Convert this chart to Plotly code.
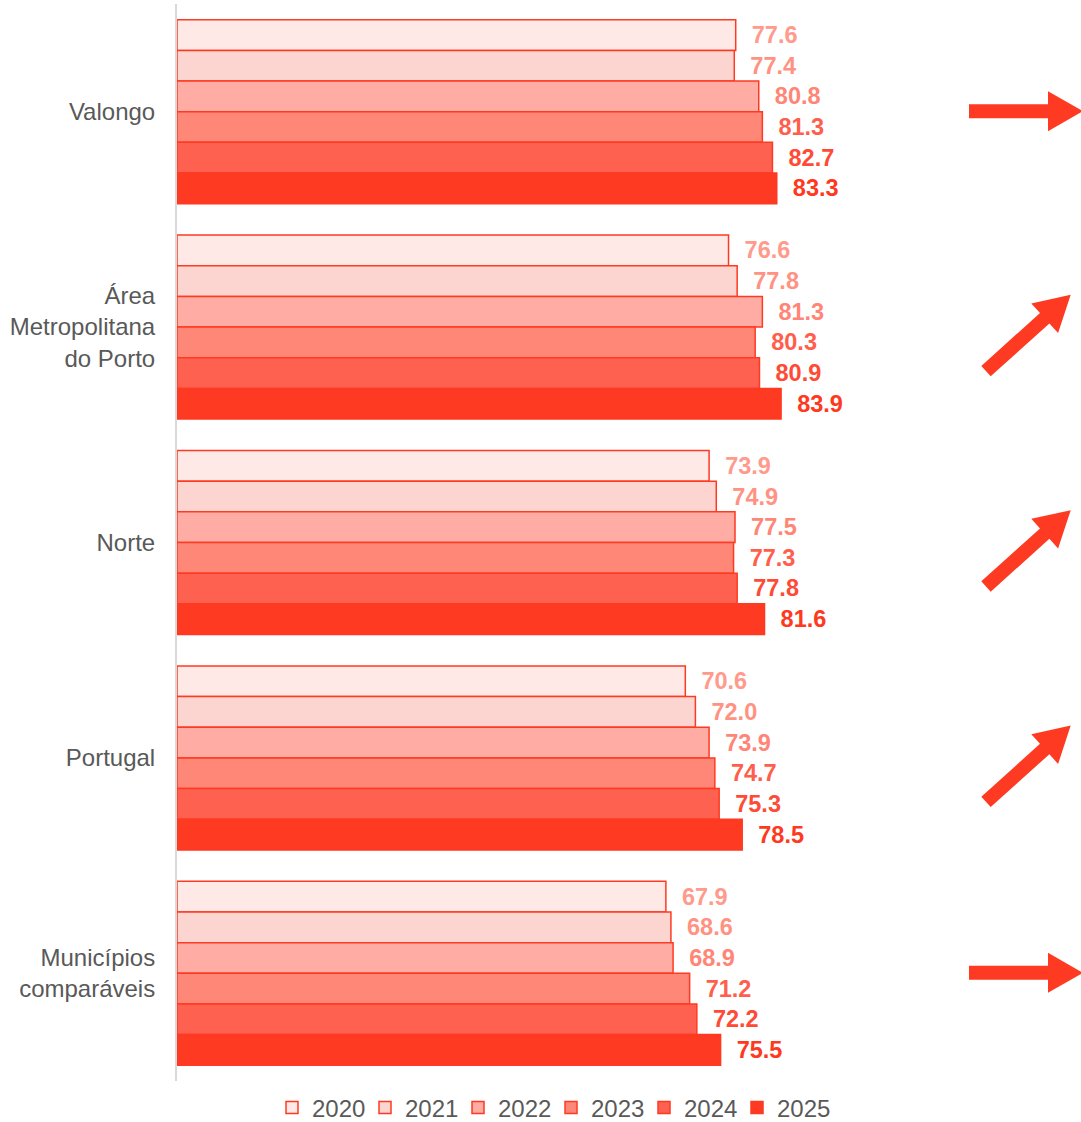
import math

import plotly.graph_objects as go

# -- Data ---------------------------------------------------------------------

categories = [
    "Valongo",
    "Área<br>Metropolitana<br>do Porto",
    "Norte",
    "Portugal",
    "Municípios<br>comparáveis",
]
years = ["2020", "2021", "2022", "2023", "2024", "2025"]

values_2020 = [77.6, 76.6, 73.9, 70.6, 67.9]
values_2021 = [77.4, 77.8, 74.9, 72.0, 68.6]
values_2022 = [80.8, 81.3, 77.5, 73.9, 68.9]
values_2023 = [81.3, 80.3, 77.3, 74.7, 71.2]
values_2024 = [82.7, 80.9, 77.8, 75.3, 72.2]
values_2025 = [83.3, 83.9, 81.6, 78.5, 75.5]

# trend arrow per category: "flat" or "up"
trends = ["flat", "up", "up", "up", "flat"]

# -- Style --------------------------------------------------------------------

RED = "#FF3A22"
GREY_TEXT = "#595959"
FONT = "Liberation Sans, Arial, sans-serif"

FILLS = ["#FFE9E7", "#FDD5D0", "#FFADA4", "#FF8777", "#FF6150", "#FF3A22"]
LABEL_COLORS = ["#FF9A8C", "#FF9282", "#FF8576", "#FF5E4C", "#FF4A36", "#FF3820"]

series = [values_2020, values_2021, values_2022, values_2023, values_2024, values_2025]

W, H = 1081, 1122
M_L, M_R, M_T, M_B = 177, 184, 4, 41
PLOT_W = W - M_L - M_R
PLOT_H = H - M_T - M_B

fig = go.Figure()

for year, vals, fill, lab_col in zip(years, series, FILLS, LABEL_COLORS):
    fig.add_trace(
        go.Bar(
            name=year,
            y=categories,
            x=vals,
            orientation="h",
            marker={"color": fill, "line": {"color": RED, "width": 1.5}},
            text=[f"\u00a0\u00a0{v:.1f}" for v in vals],
            textposition="outside",
            textfont={"family": FONT, "size": 23.5, "color": lab_col, "weight": "bold"},
            cliponaxis=False,
        )
    )


# -- Trend arrows (block arrows drawn as pixel-sized path shapes) -------------

def _arrow_path(angle_deg: float) -> str:
    """Block arrow starting at the anchor, pointing along angle (deg, CCW)."""
    shaft_len, total_len, shaft_hw, head_hw = 79, 114, 7, 20
    local = [
        (0, -shaft_hw),
        (shaft_len, -shaft_hw),
        (shaft_len, -head_hw),
        (total_len, 0),
        (shaft_len, head_hw),
        (shaft_len, shaft_hw),
        (0, shaft_hw),
    ]
    a = math.radians(angle_deg)
    pts = [
        (x * math.cos(a) - y * math.sin(a), x * math.sin(a) + y * math.cos(a))
        for x, y in local
    ]
    return "M " + " L ".join(f"{x:.1f},{y:.1f}" for x, y in pts) + " Z"


pitch = PLOT_H / len(categories)
for i, trend in enumerate(trends):
    cy = M_T + pitch * (i + 0.5)
    if trend == "flat":
        tail_x, tail_y, angle = 969, cy - 0.5, 0
    else:
        tail_x, tail_y, angle = 986, cy + 44, 42
    fig.add_shape(
        type="path",
        xref="paper",
        yref="paper",
        xsizemode="pixel",
        ysizemode="pixel",
        xanchor=(tail_x - M_L) / PLOT_W,
        yanchor=(H - M_B - tail_y) / PLOT_H,
        path=_arrow_path(angle),
        fillcolor=RED,
        line={"width": 0},
        layer="above",
    )

fig.update_layout(
    width=W,
    height=H,
    margin={"l": M_L, "r": M_R, "t": M_T, "b": M_B, "autoexpand": False},
    paper_bgcolor="white",
    plot_bgcolor="white",
    barmode="group",
    bargap=0.146,
    bargroupgap=0,
    font={"family": FONT, "size": 24, "color": GREY_TEXT},
    showlegend=True,
    legend={
        "orientation": "h",
        "xref": "container",
        "yref": "container",
        "x": 272 / W,
        "xanchor": "left",
        "y": (H - 1108) / H,
        "yanchor": "middle",
        "font": {"family": FONT, "size": 24, "color": GREY_TEXT},
        "itemwidth": 30,
        "entrywidth": 48,
        "traceorder": "normal",
    },
    xaxis={
        "range": [0, 100],
        "visible": False,
        "fixedrange": True,
    },
    yaxis={
        "autorange": "reversed",
        "showline": True,
        "linecolor": "#D9D9D9",
        "linewidth": 2,
        "ticks": "",
        "ticklabelstandoff": 15,
        "tickfont": {"family": FONT, "size": 24, "color": GREY_TEXT},
        "showgrid": False,
        "fixedrange": True,
    },
)

# the page body has a default 8px margin; drop it so the figure sits at 0,0
fig.write_html(
    "out.html",
    config={"displayModeBar": False},
    post_script="document.body.style.margin='0';",
)
